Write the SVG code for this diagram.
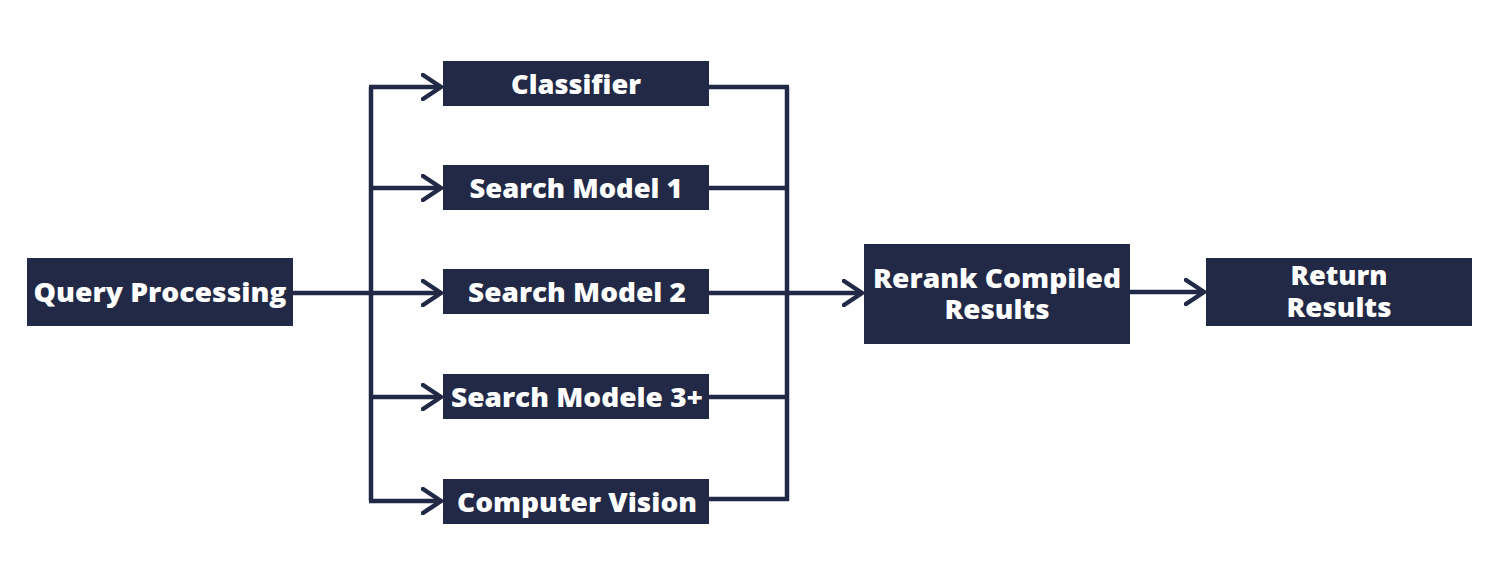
<svg xmlns="http://www.w3.org/2000/svg" width="1500" height="586" viewBox="0 0 1500 586">
<defs>
<style>
.box{fill:#212946}
.lbl{fill:#ffffff;font-family:"Open Sans","Liberation Sans",sans-serif;font-weight:800;font-size:27px;text-anchor:middle}
.ln{fill:none;stroke:#212946;stroke-width:4.5}
</style>
<marker id="ah" markerUnits="userSpaceOnUse" markerWidth="24" markerHeight="28" refX="20" refY="14" orient="auto" viewBox="0 0 24 28">
<path d="M2,2 L20,14 L2,26" fill="none" stroke="#212946" stroke-width="4.5" stroke-linecap="round" stroke-linejoin="miter"/>
</marker>
</defs>
<rect width="1500" height="586" fill="#ffffff"/>
<g id="connectors">
<path class="ln" d="M371,87 V501"/>
<path class="ln" d="M787,87 V501"/>
<path class="ln" d="M293,293 H441" marker-end="url(#ah)"/>
<path class="ln" d="M369,87 H441" marker-end="url(#ah)"/>
<path class="ln" d="M369,188 H441" marker-end="url(#ah)"/>
<path class="ln" d="M369,397 H441" marker-end="url(#ah)"/>
<path class="ln" d="M369,501 H441" marker-end="url(#ah)"/>
<path class="ln" d="M709,87 H789"/>
<path class="ln" d="M709,188 H787"/>
<path class="ln" d="M709,293 H862" marker-end="url(#ah)"/>
<path class="ln" d="M709,397 H787"/>
<path class="ln" d="M709,499 H789"/>
<path class="ln" d="M1130,292 H1204" marker-end="url(#ah)"/>
</g>
<g id="query"><rect class="box" x="27" y="258" width="266" height="68"/><text class="lbl" x="160" y="302" textLength="253" lengthAdjust="spacingAndGlyphs">Query Processing</text></g>
<g id="classifier"><rect class="box" x="443" y="61" width="266" height="45"/><text class="lbl" x="576" y="94" textLength="130" lengthAdjust="spacingAndGlyphs">Classifier</text></g>
<g id="sm1"><rect class="box" x="443" y="165" width="266" height="45"/><text class="lbl" x="576" y="198" textLength="213" lengthAdjust="spacingAndGlyphs">Search Model 1</text></g>
<g id="sm2"><rect class="box" x="443" y="269" width="266" height="45"/><text class="lbl" x="577" y="302" textLength="218" lengthAdjust="spacingAndGlyphs">Search Model 2</text></g>
<g id="sm3"><rect class="box" x="443" y="374" width="266" height="45"/><text class="lbl" x="577" y="407" textLength="252" lengthAdjust="spacingAndGlyphs">Search Modele 3+</text></g>
<g id="cv"><rect class="box" x="443" y="479" width="266" height="45"/><text class="lbl" x="577" y="512" textLength="240" lengthAdjust="spacingAndGlyphs">Computer Vision</text></g>
<g id="rerank"><rect class="box" x="864" y="244" width="266" height="100"/><text class="lbl"><tspan x="997" y="288" textLength="248" lengthAdjust="spacingAndGlyphs">Rerank Compiled</tspan><tspan x="997" y="319" textLength="105" lengthAdjust="spacingAndGlyphs">Results</tspan></text></g>
<g id="return"><rect class="box" x="1206" y="258" width="266" height="68"/><text class="lbl"><tspan x="1339" y="285" textLength="97" lengthAdjust="spacingAndGlyphs">Return</tspan><tspan x="1339" y="317" textLength="105" lengthAdjust="spacingAndGlyphs">Results</tspan></text></g>
</svg>
